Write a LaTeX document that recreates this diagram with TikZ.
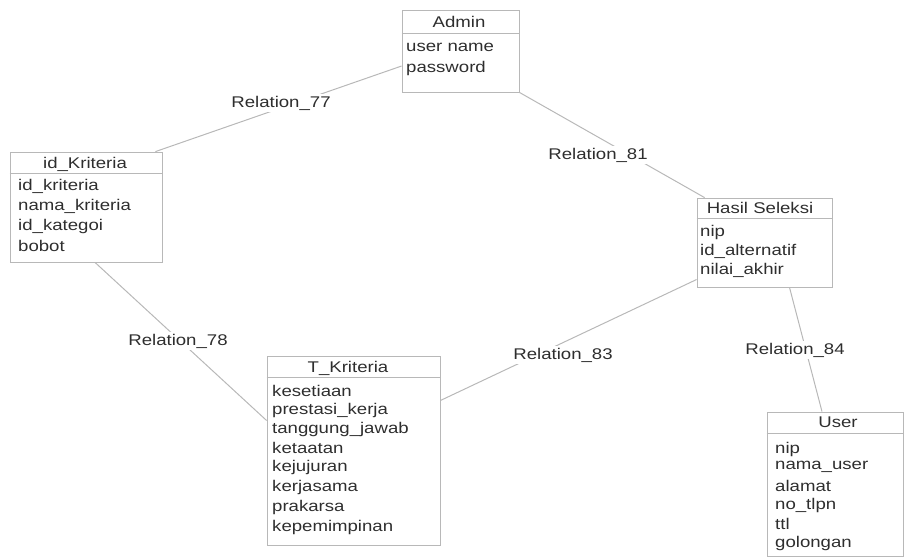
\documentclass[tikz,border=0pt]{standalone}
\usepackage{fontspec}
\newfontfamily\erfont[FakeStretch=1.2]{Liberation Sans}
\usetikzlibrary{calc}
\definecolor{txt}{gray}{0.18}
\definecolor{edge}{gray}{0.72}
\tikzset{
  entity/.style={draw=edge, line width=0.8pt, rectangle, inner sep=0pt},
  ttl/.style={font=\erfont\fontsize{15.5}{17}\selectfont, text=txt, anchor=center, inner sep=0pt},
  attr/.style={font=\erfont\fontsize{15.5}{17}\selectfont, text=txt, anchor=west, inner sep=0pt},
  rel/.style={font=\erfont\fontsize{15.5}{17}\selectfont, text=txt, fill=white, inner sep=1.5pt},
  conn/.style={draw=edge, line width=1pt},
  sep/.style={draw=edge, line width=0.6pt}
}
\begin{document}
\begin{tikzpicture}[x=1pt,y=-1pt]
\useasboundingbox (0,0) rectangle (905,558);
% entities
\node[entity, minimum width=117pt, minimum height=82pt] (admin) at (460.5,51) {};
\node[entity, minimum width=152pt, minimum height=110pt] (idk) at (86,207) {};
\node[entity, minimum width=135pt, minimum height=89pt] (hasil) at (764.5,242.5) {};
\node[entity, minimum width=173pt, minimum height=189pt] (tk) at (353.5,450.5) {};
\node[entity, minimum width=136pt, minimum height=144pt] (user) at (835,484) {};
% title separators
\draw[sep] ($(admin.north west)+(0,24)$) -- ($(admin.north east)+(0,24)$);
\draw[sep] ($(idk.north west)+(0,22)$) -- ($(idk.north east)+(0,22)$);
\draw[sep] ($(hasil.north west)+(0,21)$) -- ($(hasil.north east)+(0,21)$);
\draw[sep] ($(tk.north west)+(0,22)$) -- ($(tk.north east)+(0,22)$);
\draw[sep] ($(user.north west)+(0,22)$) -- ($(user.north east)+(0,22)$);
% connectors
\draw[conn] ([yshift=-15pt]admin.west) -- ([xshift=-7pt]idk.north east);
\draw[conn] (admin.south east) -- ([xshift=8pt]hasil.north west);
\draw[conn] ([xshift=9pt]idk.south) -- ([yshift=30pt]tk.west);
\draw[conn] ([yshift=-37pt]hasil.west) -- ([yshift=50pt]tk.east);
\draw[conn] ([xshift=25pt]hasil.south) -- ([xshift=-13pt]user.north);
% relation labels
\node[rel] (r77) at (281,103) {Relation\_77};
\node[rel] (r81) at (598,155) {Relation\_81};
\node[rel] (r78) at (178,341) {Relation\_78};
\node[rel] (r83) at (563,355) {Relation\_83};
\node[rel] (r84) at (795,350) {Relation\_84};
% Admin
\node[ttl] (adminT) at (459,22) {Admin};
\node[attr] (a1) at (406,47) {user name};
\node[attr] (a2) at (406,68) {password};
% id_Kriteria
\node[ttl] (idkT) at (85,164) {id\_Kriteria};
\node[attr] (k1) at (18,186) {id\_kriteria};
\node[attr] (k2) at (18,206) {nama\_kriteria};
\node[attr] (k3) at (18,226) {id\_kategoi};
\node[attr] (k4) at (18,246) {bobot};
% Hasil Seleksi
\node[ttl] (hasilT) at (760,208) {Hasil Seleksi};
\node[attr] (h1) at (700,232) {nip};
\node[attr] (h2) at (700,251) {id\_alternatif};
\node[attr] (h3) at (700,270) {nilai\_akhir};
% T_Kriteria
\node[ttl] (tkT) at (348,368) {T\_Kriteria};
\node[attr] (t1) at (272,391) {kesetiaan};
\node[attr] (t2) at (272,410) {prestasi\_kerja};
\node[attr] (t3) at (272,429) {tanggung\_jawab};
\node[attr] (t4) at (272,448) {ketaatan};
\node[attr] (t5) at (272,467) {kejujuran};
\node[attr] (t6) at (272,487) {kerjasama};
\node[attr] (t7) at (272,507) {prakarsa};
\node[attr] (t8) at (272,527) {kepemimpinan};
% User
\node[ttl] (userT) at (838,422) {User};
\node[attr] (u1) at (775,449) {nip};
\node[attr] (u2) at (775,467) {nama\_user};
\node[attr] (u3) at (775,486) {alamat};
\node[attr] (u4) at (775,505) {no\_tlpn};
\node[attr] (u5) at (775,524) {ttl};
\node[attr] (u6) at (775,543) {golongan};
\end{tikzpicture}
\end{document}
